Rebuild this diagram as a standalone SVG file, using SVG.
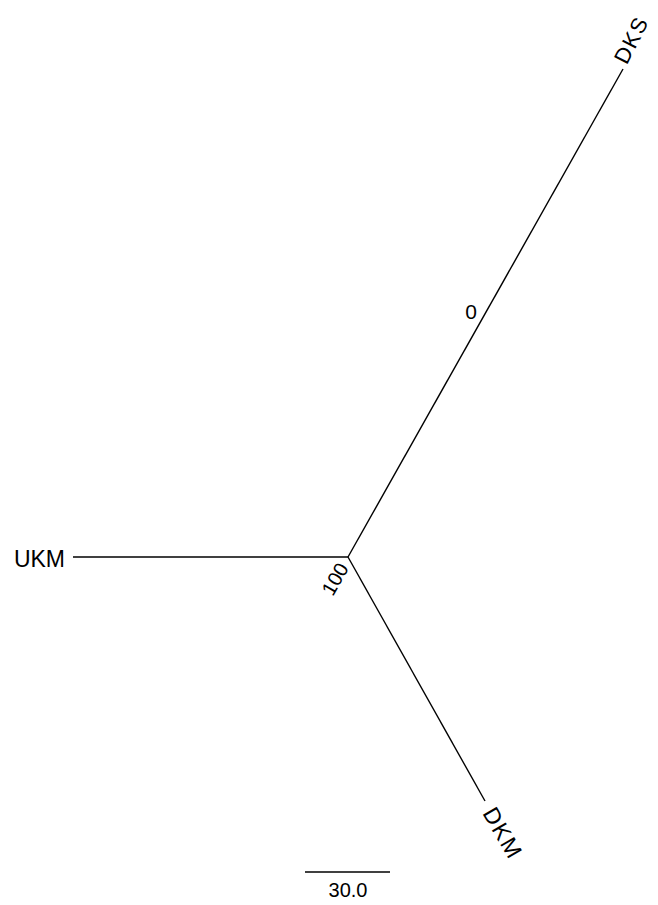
<svg xmlns="http://www.w3.org/2000/svg" width="658" height="905" viewBox="0 0 658 905">
<style>
.b{stroke:#000;stroke-width:1.4;fill:none;stroke-linecap:butt}
.t{font-family:"Liberation Sans",Arial,sans-serif;font-size:23px;fill:#000}
</style>
<rect width="658" height="905" fill="#fff"/>
<g id="connectors">
<line class="b" x1="348" y1="557" x2="73" y2="557"/>
<line class="b" x1="348" y1="557" x2="623" y2="69"/>
<line class="b" x1="348" y1="557" x2="485" y2="801"/>
<line class="b" x1="305" y1="872" x2="390" y2="872"/>
</g>
<g id="node-UKM"><text class="t" x="65" y="567" text-anchor="end">UKM</text></g>
<g id="node-DKS"><text class="t" transform="translate(620,62) rotate(-63)" dy="0.35em" style="font-size:22px;letter-spacing:1.5px">DKS</text></g>
<g id="node-DKM"><text class="t" transform="translate(489,809) rotate(60)" dy="0.35em" style="letter-spacing:1.5px">DKM</text></g>
<g id="label-0"><text class="t" x="471" y="312" text-anchor="middle" dy="0.35em" style="font-size:21px">0</text></g>
<g id="label-100"><text class="t" transform="translate(335,579) rotate(-60)" text-anchor="middle" dy="0.35em" style="font-size:20px">100</text></g>
<g id="scale"><text class="t" x="348" y="897" text-anchor="middle" style="font-size:20px">30.0</text></g>
</svg>
